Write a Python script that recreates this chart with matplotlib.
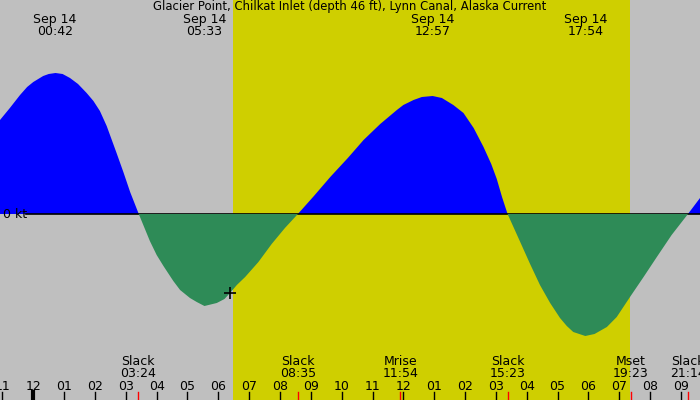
import matplotlib
matplotlib.use("Agg")
import matplotlib.pyplot as plt
import numpy as np

title = "Glacier Point, Chilkat Inlet (depth 46 ft), Lynn Canal, Alaska Current"

# current: hours after midnight Sep 14, knots (+ flood, - ebb)
curve_hours = [-1.08, -0.76, -0.43, -0.2, 0.0, 0.32, 0.5, 0.72, 0.95, 1.19, 1.45,
               1.73, 1.95, 2.16, 2.38, 2.70, 2.92, 3.14, 3.42,
               3.78, 4.0, 4.22, 4.54, 4.76, 5.08, 5.3, 5.55, 5.95, 6.2, 6.38,
               6.6, 6.87, 7.30, 7.73, 8.16, 8.4, 8.58,
               9.1, 9.63, 10.2, 10.71, 11.25, 11.79, 12.0, 12.33, 12.6, 12.95,
               13.25, 13.62, 13.95, 14.28, 14.60, 14.85, 15.03, 15.2, 15.38,
               15.79, 16.11, 16.43, 16.76, 17.08, 17.30, 17.51, 17.90, 18.2,
               18.6, 18.92, 19.35, 19.79, 20.22, 20.7, 21.23, 21.62]
curve_kt = [0.94, 1.06, 1.19, 1.27, 1.32, 1.38, 1.40, 1.41, 1.40, 1.36, 1.30,
            1.21, 1.13, 1.03, 0.88, 0.61, 0.42, 0.22, 0.0,
            -0.27, -0.41, -0.52, -0.67, -0.76, -0.84, -0.88, -0.92, -0.89, -0.85, -0.79,
            -0.71, -0.63, -0.48, -0.30, -0.14, -0.06, 0.0,
            0.18, 0.37, 0.56, 0.74, 0.90, 1.04, 1.09, 1.14, 1.17, 1.18,
            1.16, 1.09, 1.01, 0.86, 0.67, 0.50, 0.35, 0.17, 0.0,
            -0.28, -0.50, -0.71, -0.89, -1.04, -1.12, -1.18, -1.22, -1.20,
            -1.13, -1.03, -0.83, -0.63, -0.43, -0.21, 0.0, 0.16]

# max flood / max ebb, labelled along the top
peak_dates = ["Sep 14", "Sep 14", "Sep 14", "Sep 14"]
peak_times = ["00:42", "05:33", "12:57", "17:54"]

# slack water and moon rise/set, labelled along the bottom
event_names = ["Slack", "Slack", "Mrise", "Slack", "Mset", "Slack"]
event_times = ["03:24", "08:35", "11:54", "15:23", "19:23", "21:14"]

sunrise = "06:29"
sunset = "19:21"
now_time = "06:23"
now_kt = -0.79

hour_ticks = list(range(-1, 22))


def to_hours(hhmm):
    h, m = hhmm.split(":")
    return int(h) + int(m) / 60.0


GREY = "#bfbfbf"
DAY = "#cfcf00"
FLOOD = "#0000ff"
EBB = "#2e8b57"
FS = 9

fig = plt.figure(figsize=(7, 4), dpi=100)
ax = fig.add_axes([0, 0, 1, 1])
ax.set_facecolor(GREY)
ax.set_xlim(-1.08, 21.62)
ax.set_ylim(-1.86, 2.14)
ax.axis("off")
fig.patch.set_facecolor(GREY)

ax.axvspan(to_hours(sunrise), to_hours(sunset), color=DAY, lw=0, zorder=0)

t = np.array(curve_hours)
v = np.array(curve_kt)
ax.fill_between(t, v, 0, where=v >= 0, interpolate=True, color=FLOOD, lw=0, zorder=1)
ax.axhline(0, xmin=26 / 700, xmax=1, color="black", lw=1.2, zorder=2)
ax.fill_between(t, v, 0, where=v <= 0, interpolate=True, color=EBB, lw=0, zorder=3)
ax.text(-0.99, 0, "0 kt", ha="left", va="center", fontsize=FS, zorder=4)

ax.plot(to_hours(now_time), now_kt, marker="+", color="black", ms=8, mew=1.2, zorder=5)

xt = ax.get_xaxis_transform()
ax.text(0.5, 0.983, title, transform=ax.transAxes, ha="center", va="center", fontsize=8.4)

for d, tm in zip(peak_dates, peak_times):
    ax.text(to_hours(tm), 0.936, d + "\n" + tm, transform=xt, ha="center", va="center",
            fontsize=FS, linespacing=0.9)

for name, tm in zip(event_names, event_times):
    x = to_hours(tm)
    ax.text(x, 0.081, name + "\n" + tm, transform=xt, ha="center", va="center",
            fontsize=FS, linespacing=0.9)
    ax.plot([x, x], [0, 0.02], transform=xt, color="red", lw=1, zorder=6)

for h in hour_ticks:
    lab = "%02d" % ((h - 1) % 12 + 1)
    ax.text(h, 0.035, lab, transform=xt, ha="center", va="center", fontsize=FS)
    ax.plot([h, h], [0, 0.02], transform=xt, color="black",
            lw=3 if h == 0 else 1, zorder=6)

fig.savefig("out.png", dpi=100, facecolor=GREY)
